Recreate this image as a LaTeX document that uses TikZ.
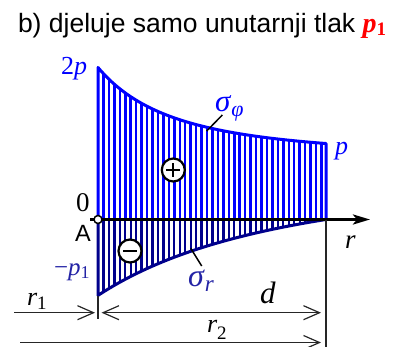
\documentclass[tikz,border=0pt]{standalone}
\usepackage{fontspec}
\setmainfont{Liberation Serif}
\newfontfamily\arialf{Liberation Sans}
\usetikzlibrary{arrows.meta}
\definecolor{bl}{RGB}{0,0,255}
\definecolor{nv}{RGB}{0,0,140}
\definecolor{nvl}{RGB}{35,35,165}
\begin{document}
\begin{tikzpicture}[x=1pt,y=-1pt,
  lab/.style={inner sep=0pt, outer sep=0pt},
  thinl/.style={line width=1.2pt, black!85},
  dimarrow/.style={thinl, -{Straight Barb[length=16pt,width=14pt]}},
  dimboth/.style={thinl, {Straight Barb[length=16pt,width=14pt]}-{Straight Barb[length=16pt,width=14pt]}},
  sign/.style={circle, draw=black, line width=2.2pt, fill=white, minimum size=23pt, inner sep=0pt},
  leader/.style={line width=1.5pt, black},
  hatchup/.style={bl, line width=2.5pt},
  hatchlo/.style={nv, line width=2.3pt}]
\useasboundingbox (0,0) rectangle (398,347);

% title
\node[lab, anchor=base west] (title) at (18,33)
  {{\arialf\fontsize{26.5}{30}\selectfont b) djeluje samo unutarnji tlak }%
   {\color{red}\fontsize{28}{30}\selectfont\bfseries\itshape p\raisebox{-3pt}{\upshape\fontsize{19}{20}\selectfont 1}}};

% upper hatched region
\begin{scope}
\clip (98,219.5) -- plot[domain=98:326,samples=80] (\x,{219.5-61.5-90.5/((1+1.5*(\x-98)/228)^2)}) -- (326,219.5) -- cycle;
\foreach \i in {0,...,42} \draw[hatchup] ({98+\i*5.45},50) -- ({98+\i*5.45},221);
\end{scope}
% lower hatched region
\begin{scope}
\clip (98,219.5) -- plot[domain=98:326,samples=80] (\x,{219.5+124.6/((1+0.6*(\x-98)/228)^2)-48.7}) -- cycle;
\foreach \i in {0,...,42} \draw[hatchlo] ({98+\i*5.45},218) -- ({98+\i*5.45},300);
\end{scope}

% outlines
\draw[bl, line width=3pt, line join=round] (98,219.5) -- plot[domain=98:326,samples=80] (\x,{219.5-61.5-90.5/((1+1.5*(\x-98)/228)^2)}) -- (326,219.5);
\draw[nv, line width=3pt, line join=round] (98,219.5) -- plot[domain=98:326,samples=80] (\x,{219.5+124.6/((1+0.6*(\x-98)/228)^2)-48.7});

% axis
\coordinate (axs) at (90,219.5);
\coordinate (axe) at (370,219.5);
\draw[line width=3pt, -{Stealth[length=17pt,width=10pt,inset=4pt]}] (axs) -- (axe);
\node[circle, draw=black, fill=white, line width=1.5pt, minimum size=8pt, inner sep=0pt] (O) at (98,219.5) {};

% sign circles
\node[sign] (plus) at (173.3,170) {};
\draw[line width=2.2pt] ([xshift=-7pt]plus.center) -- ([xshift=7pt]plus.center);
\draw[line width=2.2pt] ([yshift=-7pt]plus.center) -- ([yshift=7pt]plus.center);
\node[sign] (minus) at (130,251) {};
\draw[line width=2.2pt] ([xshift=-7pt]minus.center) -- ([xshift=7pt]minus.center);

% labels
\node[lab, anchor=base east, text=bl, font=\fontsize{26}{28}\selectfont] (twop) at (87,75) {2\textit{p}};
\node[lab, anchor=base west, text=bl, font=\fontsize{26}{28}\selectfont] (pr) at (335,155) {\textit{p}};
\node[lab, anchor=base east, font=\fontsize{27}{28}\selectfont] (zero) at (89.5,211.5) {0};
\node[lab, anchor=base west, font=\arialf\fontsize{23.5}{26}\selectfont] (A) at (75,241.7) {A};
\node[lab, anchor=base west, text=nvl, font=\fontsize{25}{28}\selectfont] (mp) at (54,275)
  {−\textit{p}\raisebox{-3pt}{\fontsize{18}{20}\selectfont 1}};
\node[lab, anchor=base west, text=bl, font=\fontsize{31}{32}\selectfont] (sphi) at (215,111.5)
  {\textit{σ}\raisebox{-5pt}{\fontsize{22}{22}\selectfont\textit{φ}}};
\node[lab, anchor=base west, text=nvl, font=\fontsize{32}{32}\selectfont] (sr) at (188,286)
  {\textit{σ}\raisebox{-5pt}{\fontsize{23}{22}\selectfont\textit{r}}};
\node[lab, anchor=base west, font=\fontsize{27}{28}\selectfont] (rax) at (345,248) {\textit{r}};
\node[lab, anchor=base west, font=\fontsize{26}{28}\selectfont] (r1) at (27,305)
  {\textit{r}\raisebox{-4pt}{\fontsize{19}{20}\selectfont 1}};
\node[lab, anchor=base west, font=\fontsize{31}{32}\selectfont] (dl) at (260,303) {\textit{d}};
\node[lab, anchor=base west, font=\fontsize{26}{28}\selectfont] (r2) at (207,332)
  {\textit{r}\raisebox{-7pt}{\fontsize{19}{20}\selectfont 2}};

% leader lines
\coordinate (lphi) at (206.7,131);
\coordinate (lphie) at (222.3,115);
\draw[leader] (lphi) -- (lphie);
\coordinate (lr) at (190.7,248.3);
\coordinate (lre) at (201.7,266);
\draw[leader] (lr) -- (lre);

% dimension lines
\coordinate (v1a) at (98,296);
\coordinate (v1b) at (98,319);
\coordinate (v2a) at (326,219.5);
\coordinate (v2b) at (326,347);
\draw[thinl] (v1a) -- (v1b);
\draw[thinl] (v2a) -- (v2b);
\coordinate (r1s) at (14,312.7);
\coordinate (r1e) at (95,312.7);
\draw[dimarrow] (r1s) -- (r1e);
\coordinate (ds) at (101.5,312.7);
\coordinate (de) at (321,312.7);
\draw[dimboth] (ds) -- (de);
\coordinate (r2s) at (20,342.5);
\coordinate (r2e) at (321,342.5);
\draw[dimarrow] (r2s) -- (r2e);
\end{tikzpicture}
\end{document}
